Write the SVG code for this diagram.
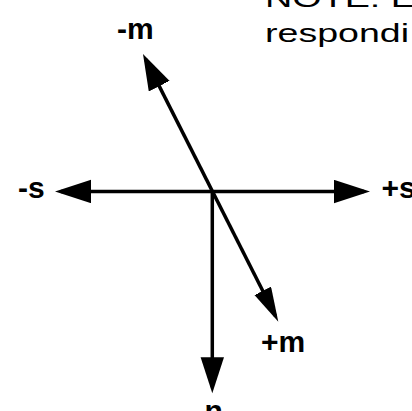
<svg xmlns="http://www.w3.org/2000/svg" width="412" height="411" viewBox="0 0 412 411">
  <style>
    .lbl { font-family: "Liberation Sans", Arial, sans-serif; font-weight: bold; font-size: 30px; fill: #000; }
    .note { font-family: "Liberation Sans", Arial, sans-serif; font-size: 26px; fill: #000; }
    .axis { stroke: #000; stroke-width: 3.5; fill: none; }
  </style>
  <defs>
    <marker id="head" markerUnits="userSpaceOnUse" markerWidth="37" markerHeight="24" refX="30" refY="11.7" orient="auto-start-reverse" viewBox="0 0 37 24">
      <path d="M0,0 L36,11.7 L0,23.4 Z" fill="#000"/>
    </marker>
    <marker id="headSmall" markerUnits="userSpaceOnUse" markerWidth="35" markerHeight="19" refX="28.5" refY="9.3" orient="auto-start-reverse" viewBox="0 0 35 19">
      <path d="M0,0 L34.5,9.3 L0,18.6 Z" fill="#000"/>
    </marker>
  </defs>
  <rect width="412" height="411" fill="#fff"/>
  <g id="connectors">
    <line class="axis" x1="61" y1="191.5" x2="364" y2="191.5" marker-start="url(#head)" marker-end="url(#head)"/>
    <line class="axis" x1="145.7" y1="59.4" x2="275.6" y2="316.3" marker-start="url(#head)" marker-end="url(#headSmall)"/>
    <line class="axis" x1="212.3" y1="190" x2="212.3" y2="387.3" marker-end="url(#head)"/>
  </g>
  <g id="label-minus-m"><text class="lbl" x="117" y="39">-m</text></g>
  <g id="label-minus-s"><text class="lbl" x="18" y="198">-s</text></g>
  <g id="label-plus-s"><text class="lbl" x="381.5" y="198">+s</text></g>
  <g id="label-plus-m"><text class="lbl" x="261" y="351.7">+m</text></g>
  <g id="label-n"><text class="lbl" x="204.5" y="421">n</text></g>
  <g id="note">
    <text class="note" x="265" y="7" textLength="151" lengthAdjust="spacingAndGlyphs">NOTE: E</text>
    <text class="note" x="265" y="41.7" textLength="144" lengthAdjust="spacingAndGlyphs">respondi</text>
  </g>
</svg>
